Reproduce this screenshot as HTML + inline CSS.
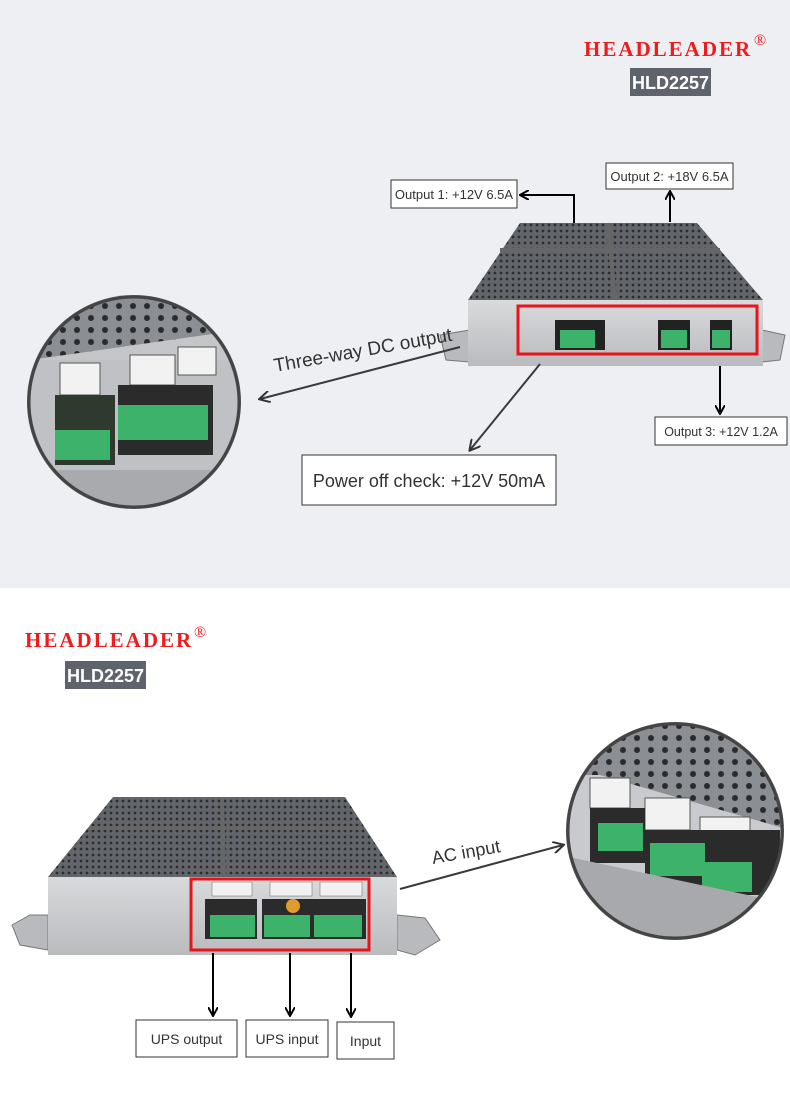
<!DOCTYPE html>
<html><head><meta charset="utf-8"><style>
body{margin:0;width:790px;height:1092px;overflow:hidden;font-family:"Liberation Sans",sans-serif}
</style></head><body>
<svg width="790" height="1092" viewBox="0 0 790 1092" xmlns="http://www.w3.org/2000/svg" font-family="Liberation Sans, sans-serif">
<defs>
<pattern id="holes" width="6" height="6" patternUnits="userSpaceOnUse"><rect width="6" height="6" fill="#62656a"/><circle cx="3" cy="3" r="1.4" fill="#2b2d30"/></pattern>
<pattern id="bigholes" width="14" height="12" patternUnits="userSpaceOnUse"><rect width="14" height="12" fill="#8b8e92"/><circle cx="7" cy="6" r="3" fill="#2a2b2e"/></pattern>
<linearGradient id="face" x1="0" y1="0" x2="0" y2="1"><stop offset="0" stop-color="#d8dadc"/><stop offset="1" stop-color="#b9bbbe"/></linearGradient>
<marker id="ah" markerWidth="10" markerHeight="10" refX="8" refY="5" orient="auto" markerUnits="userSpaceOnUse"><path d="M0,0 L9,5 L0,10" fill="none" stroke="#000" stroke-width="2"/></marker>
<marker id="ah2" markerWidth="12" markerHeight="12" refX="10" refY="6" orient="auto" markerUnits="userSpaceOnUse"><path d="M0,0 L11,6 L0,12" fill="none" stroke="#333" stroke-width="2"/></marker>
<clipPath id="c1"><circle cx="134" cy="402" r="104"/></clipPath>
<clipPath id="c2"><circle cx="675" cy="831" r="106"/></clipPath>
</defs>
<rect x="0" y="0" width="790" height="588" fill="#eeeff3"/>
<rect x="0" y="588" width="790" height="504" fill="#fff"/>

<!-- top brand -->
<text x="584" y="56" font-family="Liberation Serif,serif" font-weight="bold" font-size="21" fill="#ee1c1c" letter-spacing="2">HEADLEADER</text>
<text x="754" y="45" font-family="Liberation Serif,serif" font-size="16" fill="#ee1c1c">®</text>
<rect x="630" y="68" width="81" height="28" fill="#5f636b"/>
<text x="670.5" y="89" font-size="18" fill="#fff" text-anchor="middle" font-weight="bold">HLD2257</text>

<!-- top device -->
<path d="M440,335 L470,330 L470,362 L446,360 Z" fill="#b8babd" stroke="#777"/>
<path d="M762,330 L785,335 L780,360 L762,362 Z" fill="#b8babd" stroke="#777"/>
<polygon points="520,223 697,223 763,300 468,300" fill="url(#holes)"/>
<line x1="608" y1="223" x2="615" y2="300" stroke="#666" stroke-width="4"/>
<line x1="500" y1="250" x2="720" y2="250" stroke="#666" stroke-width="4"/>
<rect x="468" y="300" width="295" height="66" fill="url(#face)"/>
<rect x="518" y="306" width="239" height="48" fill="none" stroke="#e8141b" stroke-width="3"/>
<rect x="555" y="320" width="50" height="30" fill="#222"/><rect x="560" y="330" width="35" height="18" fill="#3db26a"/>
<rect x="658" y="320" width="32" height="30" fill="#222"/><rect x="661" y="330" width="26" height="18" fill="#3db26a"/>
<rect x="710" y="320" width="22" height="30" fill="#222"/><rect x="712" y="330" width="18" height="18" fill="#3db26a"/>

<!-- top connectors -->
<polyline points="574,223 574,195 521,195" fill="none" stroke="#000" stroke-width="2" marker-end="url(#ah)"/>
<line x1="670" y1="222" x2="670" y2="192" stroke="#000" stroke-width="2" marker-end="url(#ah)"/>
<line x1="720" y1="366" x2="720" y2="413" stroke="#000" stroke-width="2" marker-end="url(#ah)"/>
<rect x="391" y="180" width="126" height="28" fill="#fff" stroke="#333"/>
<text x="454" y="199" font-size="13" fill="#333" text-anchor="middle">Output 1: +12V 6.5A</text>
<rect x="606" y="163" width="127" height="26" fill="#fff" stroke="#333"/>
<text x="669.5" y="181" font-size="13" fill="#333" text-anchor="middle">Output 2: +18V 6.5A</text>
<rect x="655" y="417" width="132" height="28" fill="#fff" stroke="#333"/>
<text x="721" y="436" font-size="12.5" fill="#333" text-anchor="middle">Output 3: +12V 1.2A</text>
<line x1="460" y1="347" x2="260" y2="399" stroke="#3a3a3a" stroke-width="2" marker-end="url(#ah2)"/>
<line x1="540" y1="364" x2="470" y2="450" stroke="#3a3a3a" stroke-width="2" marker-end="url(#ah2)"/>
<text x="275" y="372" font-size="19" fill="#333" transform="rotate(-10 275 372)">Three-way DC output</text>
<rect x="302" y="455" width="254" height="50" fill="#fff" stroke="#333"/>
<text x="429" y="487" font-size="18" fill="#333" text-anchor="middle">Power off check: +12V 50mA</text>

<!-- top circle -->
<circle cx="134" cy="402" r="107" fill="#555"/>
<g clip-path="url(#c1)">
<rect x="20" y="290" width="240" height="230" fill="#c4c6c9"/>
<polygon points="30,297 240,297 240,330 30,360" fill="url(#bigholes)"/>
<rect x="30" y="360" width="215" height="120" fill="#bfc1c4"/>
<rect x="60" y="363" width="40" height="32" fill="#f2f2f2" stroke="#555"/>
<rect x="130" y="355" width="45" height="30" fill="#f2f2f2" stroke="#555"/>
<rect x="178" y="347" width="38" height="28" fill="#f2f2f2" stroke="#555"/>
<rect x="55" y="395" width="60" height="70" fill="#2e3a2e"/>
<rect x="55" y="430" width="55" height="30" fill="#3db26a"/>
<rect x="118" y="385" width="95" height="70" fill="#2b2b2b"/>
<rect x="118" y="405" width="90" height="35" fill="#3db26a"/>
<rect x="20" y="470" width="240" height="50" fill="#a8aaad"/>
</g>
<circle cx="134" cy="402" r="105" fill="none" stroke="#444" stroke-width="3"/>

<!-- bottom brand -->
<text x="25" y="647" font-family="Liberation Serif,serif" font-weight="bold" font-size="21" fill="#ee1c1c" letter-spacing="2">HEADLEADER</text>
<text x="194" y="637" font-family="Liberation Serif,serif" font-size="16" fill="#ee1c1c">®</text>
<rect x="65" y="661" width="81" height="28" fill="#5f636b"/>
<text x="105.5" y="682" font-size="18" fill="#fff" text-anchor="middle" font-weight="bold">HLD2257</text>

<!-- bottom device -->
<path d="M12,925 L30,915 L48,915 L48,950 L20,945 Z" fill="#b8babd" stroke="#777"/>
<path d="M397,915 L425,918 L440,940 L415,955 L397,950 Z" fill="#b8babd" stroke="#777"/>
<polygon points="113,797 345,797 397,877 48,877" fill="url(#holes)"/>
<line x1="222" y1="797" x2="224" y2="877" stroke="#666" stroke-width="4"/>
<line x1="90" y1="828" x2="362" y2="828" stroke="#666" stroke-width="4"/>
<rect x="48" y="877" width="349" height="78" fill="url(#face)"/>
<rect x="191" y="879" width="178" height="71" fill="none" stroke="#e8141b" stroke-width="3"/>
<rect x="212" y="882" width="40" height="14" fill="#f2f2f2" stroke="#666" stroke-width=".5"/>
<rect x="270" y="882" width="42" height="14" fill="#f2f2f2" stroke="#666" stroke-width=".5"/>
<rect x="320" y="882" width="42" height="14" fill="#f2f2f2" stroke="#666" stroke-width=".5"/>
<rect x="205" y="899" width="52" height="40" fill="#2b2b2b"/><rect x="210" y="915" width="45" height="22" fill="#3db26a"/>
<rect x="262" y="899" width="104" height="40" fill="#2b2b2b"/><rect x="264" y="915" width="46" height="22" fill="#3db26a"/><rect x="314" y="915" width="48" height="22" fill="#3db26a"/>
<circle cx="293" cy="906" r="7" fill="#e39a2c"/>

<!-- bottom connectors -->
<line x1="213" y1="953" x2="213" y2="1015" stroke="#000" stroke-width="2" marker-end="url(#ah)"/>
<line x1="290" y1="953" x2="290" y2="1015" stroke="#000" stroke-width="2" marker-end="url(#ah)"/>
<line x1="351" y1="953" x2="351" y2="1016" stroke="#000" stroke-width="2" marker-end="url(#ah)"/>
<rect x="136" y="1020" width="101" height="37" fill="#fff" stroke="#333"/>
<text x="186.5" y="1044" font-size="14" fill="#333" text-anchor="middle">UPS output</text>
<rect x="246" y="1020" width="82" height="37" fill="#fff" stroke="#333"/>
<text x="287" y="1044" font-size="14" fill="#333" text-anchor="middle">UPS input</text>
<rect x="337" y="1022" width="57" height="37" fill="#fff" stroke="#333"/>
<text x="365.5" y="1046" font-size="14" fill="#333" text-anchor="middle">Input</text>
<line x1="400" y1="889" x2="563" y2="845" stroke="#3a3a3a" stroke-width="2" marker-end="url(#ah2)"/>
<text x="433" y="864" font-size="18" fill="#333" transform="rotate(-10 433 864)">AC input</text>

<!-- bottom circle -->
<circle cx="675" cy="831" r="109" fill="#555"/>
<g clip-path="url(#c2)">
<rect x="560" y="715" width="230" height="230" fill="#c8cacd"/>
<polygon points="560,715 790,715 790,830 600,775 560,775" fill="url(#bigholes)"/>
<rect x="590" y="778" width="40" height="30" fill="#f2f2f2" stroke="#555"/>
<rect x="645" y="798" width="45" height="32" fill="#f2f2f2" stroke="#555"/>
<rect x="700" y="817" width="50" height="32" fill="#f2f2f2" stroke="#555"/>
<rect x="590" y="808" width="55" height="55" fill="#2b2b2b"/><rect x="598" y="823" width="45" height="28" fill="#3db26a"/>
<rect x="645" y="830" width="135" height="65" fill="#2b2b2b"/><rect x="650" y="843" width="55" height="33" fill="#3db26a"/><rect x="702" y="862" width="50" height="30" fill="#3db26a"/>
<rect x="560" y="880" width="230" height="70" fill="#a7a9ac" transform="rotate(12 675 900)"/>
</g>
<circle cx="675" cy="831" r="107" fill="none" stroke="#444" stroke-width="3"/>
</svg>
</body></html>
